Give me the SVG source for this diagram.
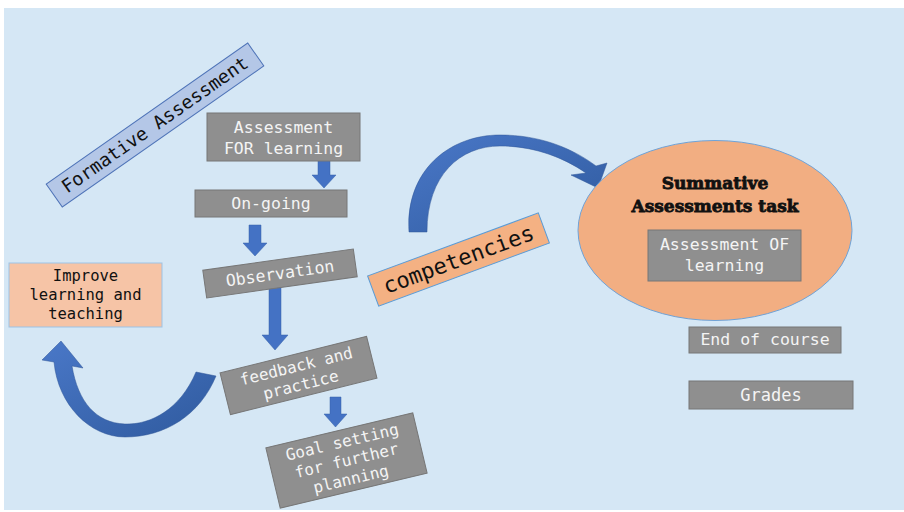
<svg xmlns="http://www.w3.org/2000/svg" width="904" height="512" viewBox="0 0 904 512">
<defs>
<linearGradient id="curveGrad" x1="0" y1="0" x2="1" y2="1">
<stop offset="0" stop-color="#4a78c8"/>
<stop offset="1" stop-color="#2f5a9e"/>
</linearGradient>
<style>
.gray{fill:#8f8f8f;stroke:#777;stroke-width:1}
.wt{fill:#f4f4f4;font-family:"DejaVu Sans Mono","Liberation Mono",monospace;font-size:16.5px;text-anchor:middle}
.bt{fill:#111;font-family:"DejaVu Sans Mono","Liberation Mono",monospace;font-size:15.5px;text-anchor:middle}
.peach{fill:#f6c4a6;stroke:#9dc3e6;stroke-width:1}
.orange{fill:#f2ae82;stroke:#6fa3d8;stroke-width:1}
.arrow{fill:#4472c4;stroke:#3560a8;stroke-width:0.5}
.curve{fill:url(#curveGrad);stroke:#2f5597;stroke-width:0.5}
</style>
</defs>
<rect x="0" y="0" width="904" height="512" fill="#ffffff"/>
<rect x="4" y="8" width="900" height="502" fill="#d5e7f5"/>

<g id="connectors">
<path class="arrow" d="M318,156 H330 V175 H336 L324,188 L312,175 H318 Z"/>
<path class="arrow" d="M249,225 H261 V243 H267 L255,256 L243,243 H249 Z"/>
<path class="arrow" d="M269,287 H281 V335 H288 L275,350 L262,335 H269 Z"/>
<path class="arrow" d="M330,397 H341 V414 H347 L335.5,427 L324,414 H330 Z"/>
<path class="curve" d="M196,372 C180,410 150,425 125,424 C96,423 78,402 72,366 L83,368 L61,341 L42,360 L54,362 C58,405 90,437 125,437 C165,437 200,415 216,376 Z"/>
<path class="curve" d="M409,232 C405,170 450,135 500,135 C540,135 572,148 596,166 L607,163 L598,188 L571,175 L586,173 C560,155 530,146 500,146 C460,146 427,175 427,232 Z"/>
</g>

<g id="formative">
<g transform="translate(155,125) rotate(-35)">
<rect x="-123" y="-14" width="246" height="28" fill="#b4c7e7" stroke="#4f74b8" stroke-width="1"/>
<text x="0" y="6" class="bt" style="font-size:18.5px">Formative Assessment</text>
</g>
</g>

<g id="afl">
<rect class="gray" x="207" y="113" width="153" height="48"/>
<text class="wt" x="283.5" y="133">Assessment</text>
<text class="wt" x="283.5" y="154">FOR learning</text>
</g>

<g id="ongoing">
<rect class="gray" x="195" y="190" width="152" height="27"/>
<text class="wt" x="271" y="209">On-going</text>
</g>

<g id="observation">
<g transform="translate(280,273.5) rotate(-8)">
<rect class="gray" x="-76" y="-14" width="152" height="28"/>
<text class="wt" x="0" y="5.5">Observation</text>
</g>
</g>

<g id="feedback">
<g transform="translate(298.5,375.5) rotate(-14)">
<rect class="gray" x="-75.5" y="-21.5" width="151" height="43"/>
<text class="wt" x="0" y="-4" style="font-size:16px">feedback and</text>
<text class="wt" x="0" y="15" style="font-size:16px">practice</text>
</g>
</g>

<g id="goal">
<g transform="translate(346.5,460.5) rotate(-13.4)">
<rect class="gray" x="-75.5" y="-31" width="151" height="62"/>
<text class="wt" x="0" y="-13.5" style="font-size:16px">Goal setting</text>
<text class="wt" x="0" y="5.5" style="font-size:16px">for further</text>
<text class="wt" x="0" y="24.5" style="font-size:16px">planning</text>
</g>
</g>

<g id="improve">
<rect class="peach" x="9" y="263" width="153" height="64"/>
<text class="bt" x="85.5" y="281">Improve</text>
<text class="bt" x="85.5" y="300">learning and</text>
<text class="bt" x="85.5" y="319">teaching</text>
</g>

<g id="competencies">
<g transform="translate(458.5,259.5) rotate(-20.3)">
<rect x="-91" y="-16" width="182" height="32" fill="#f4b183" stroke="#5b9bd5" stroke-width="1"/>
<text class="bt" x="0" y="7.5" style="font-size:22px">competencies</text>
</g>
</g>

<g id="summative">
<ellipse class="orange" cx="715" cy="230.5" rx="137" ry="90"/>
<text x="715" y="189" text-anchor="middle" font-family="'DejaVu Serif','Liberation Serif',serif" font-weight="bold" font-size="17" fill="#111" stroke="#111" stroke-width="0.8">Summative</text>
<text x="715" y="212" text-anchor="middle" font-family="'DejaVu Serif','Liberation Serif',serif" font-weight="bold" font-size="17" fill="#111" stroke="#111" stroke-width="0.8">Assessments task</text>
</g>

<g id="aol">
<rect class="gray" x="648" y="230" width="153" height="51"/>
<text class="wt" x="724.5" y="250">Assessment OF</text>
<text class="wt" x="724.5" y="271">learning</text>
</g>

<g id="endcourse">
<rect class="gray" x="689" y="327" width="152" height="26"/>
<text class="wt" x="765" y="345">End of course</text>
</g>

<g id="grades">
<rect class="gray" x="689" y="381" width="164" height="28"/>
<text class="wt" x="771" y="401" style="font-size:17px">Grades</text>
</g>
</svg>
